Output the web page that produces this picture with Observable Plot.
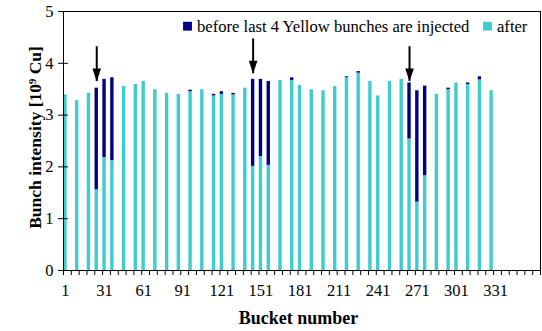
<!DOCTYPE html>
<html><head><meta charset="utf-8">
<script src="https://cdn.jsdelivr.net/npm/d3@7"></script>
<script src="https://cdn.jsdelivr.net/npm/@observablehq/plot@0.6"></script>
<style>body{margin:0;background:#fff;} svg{display:block;}</style>
</head><body><div id="chart"></div>
<script>
// ---- data ----
const buckets = [1,10,19,25,31,37,46,55,61,70,79,88,97,106,115,121,130,139,145,151,157,166,175,181,190,199,208,217,226,235,241,250,259,265,271,277,286,295,301,310,319,328];
const beforeValues = [3.39,3.28,3.42,3.52,3.69,3.72,3.55,3.59,3.65,3.49,3.42,3.40,3.48,3.49,3.40,3.45,3.42,3.52,3.69,3.69,3.65,3.67,3.72,3.57,3.49,3.47,3.55,3.74,3.84,3.65,3.37,3.65,3.69,3.62,3.47,3.56,3.40,3.52,3.62,3.62,3.74,3.47];
const afterValues  = [3.39,3.28,3.42,1.56,2.18,2.12,3.55,3.59,3.65,3.49,3.42,3.40,3.45,3.49,3.37,3.40,3.39,3.52,2.01,2.20,2.03,3.67,3.67,3.57,3.49,3.47,3.55,3.72,3.81,3.65,3.37,3.65,3.69,2.54,1.32,1.83,3.40,3.49,3.62,3.59,3.68,3.47];
const xTickLabels = [1,31,61,91,121,151,181,211,241,271,301,331];
const yTickLabels = [0,1,2,3,4,5];
const seriesNames = ["before last 4 Yellow bunches are injected", "after"];
const seriesColors = ["#000080", "#3ECCCC"];
const arrowBuckets = [25,145,265];
const arrowFrom = [4.32,4.47,4.32];
const arrowTo = [3.65,3.80,3.65];
const xTitle = "Bucket number";
const yTitle = "Bunch intensity [10⁹ Cu]";

const data = buckets.map((b,i)=>({bucket:b, before:beforeValues[i], after:afterValues[i]}));
const arrows = arrowBuckets.map((b,i)=>({bucket:b, from:arrowFrom[i], to:arrowTo[i]}));
const xTickMarks = d3.range(-0.5, 366, 6);
const half = 1.3;

const arrowHead = {draw(ctx){ ctx.moveTo(-4.3,-13); ctx.lineTo(4.3,-13); ctx.lineTo(0,0); ctx.closePath(); }};

const chart = Plot.plot({
  width: 542, height: 331,
  marginLeft: 63, marginRight: 2, marginTop: 11, marginBottom: 61,
  style: {fontFamily: "'Liberation Serif', 'Times New Roman', serif", fontSize: "16px", color: "#000", background: "#fff"},
  x: {domain: [-0.5, 365.5], axis: null, label: null},
  y: {domain: [0, 5], axis: null, label: null},
  marks: [
    Plot.rect(data, {x1: d=>d.bucket-half, x2: d=>d.bucket+half, y1: 0, y2: "after", fill: seriesColors[1]}),
    Plot.rect(data.filter(d=>d.before>d.after), {x1: d=>d.bucket-half, x2: d=>d.bucket+half, y1: "after", y2: "before", fill: seriesColors[0]}),
    Plot.frame({stroke: "#000"}),
    Plot.axisX(xTickMarks, {tickSize: 5, text: null, stroke: "#000", label: null}),
    Plot.axisX(xTickLabels, {tickSize: 0, tickPadding: 14, fontSize: 16.5, tickFormat: d=>String(d), label: null}),
    Plot.axisY(yTickLabels, {tickSize: 5, tickPadding: 5, fontSize: 16.5, tickFormat: d=>String(d), label: null}),
    Plot.axisY(yTickLabels, {tickSize: 5, dx: 5, text: null, label: null}),
    Plot.ruleX(arrows, {x: "bucket", y1: "from", y2: "to", stroke: "#000", strokeWidth: 2}),
    Plot.dot(arrows, {x: "bucket", y: "to", symbol: arrowHead, fill: "#000", stroke: "none", r: 3}),
    Plot.dot([seriesNames[0]], {frameAnchor: "top-left", dx: 124, dy: 14.7, symbol: "square", r: 5, fill: seriesColors[0]}),
    Plot.text([seriesNames[0]], {text: d=>d, frameAnchor: "top-left", dx: 133.5, dy: 14.7, textAnchor: "start", lineAnchor: "middle", fontSize: 16.6}),
    Plot.dot([seriesNames[1]], {frameAnchor: "top-left", dx: 424, dy: 14.7, symbol: "square", r: 5, fill: seriesColors[1]}),
    Plot.text([seriesNames[1]], {text: d=>d, frameAnchor: "top-left", dx: 433.5, dy: 14.7, textAnchor: "start", lineAnchor: "middle", fontSize: 16.6}),
    Plot.text([xTitle], {text: d=>d, frameAnchor: "bottom", dx: -3.5, dy: 47.5, lineAnchor: "middle", fontSize: 18, fontWeight: "bold"}),
    Plot.text([yTitle], {text: d=>d, frameAnchor: "left", dx: -28, dy: -3.5, rotate: -90, textAnchor: "middle", lineAnchor: "middle", fontSize: 17.5, fontWeight: "bold"})
  ]
});
document.getElementById("chart").appendChild(chart);
</script>
</body></html>
